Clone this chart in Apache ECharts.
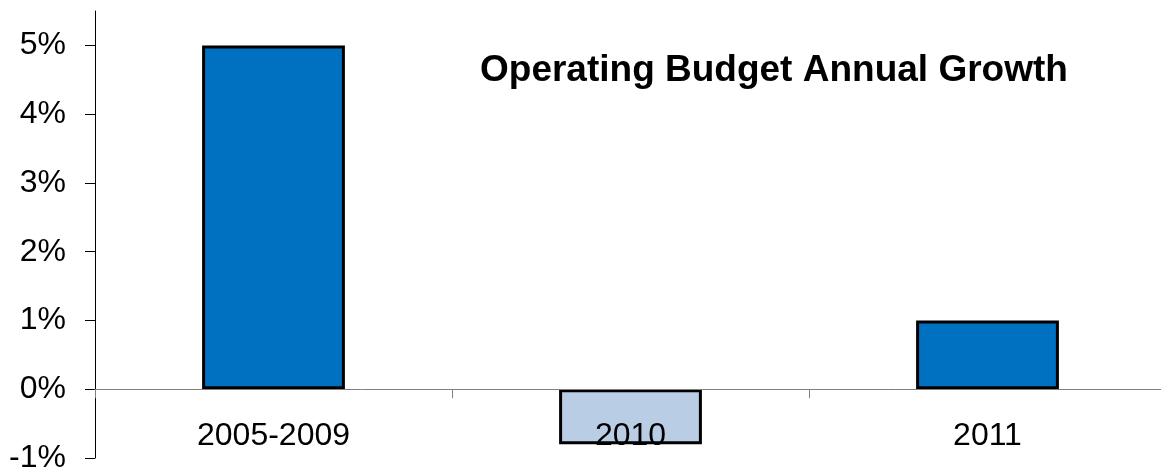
<!DOCTYPE html>
<html>
<head>
<meta charset="utf-8">
<script src="https://cdn.jsdelivr.net/npm/echarts@6/dist/echarts.min.js"></script>
<style>
html,body{margin:0;padding:0;background:#fff;}
#chart{width:1161px;height:469px;}
</style>
</head>
<body>
<div id="chart"></div>
<script>
var categories = ['2005-2009', '2010', '2011'];
var growthValues = [5, -0.8, 1];
var barColors = ['#0070C0', '#B9CDE5', '#0070C0'];
var yTickValues = [-1, 0, 1, 2, 3, 4, 5];
var chartTitle = 'Operating Budget Annual Growth';

var chart = echarts.init(document.getElementById('chart'));
chart.setOption({
  animation: false,
  backgroundColor: '#ffffff',
  title: {
    text: chartTitle,
    left: 475,
    top: 47,
    textStyle: {fontFamily: 'Liberation Sans, Arial', fontWeight: 'bold', fontSize: 37, color: '#000'}
  },
  grid: {left: 95, right: -5, top: 11, bottom: 11, containLabel: false, outerBoundsMode: 'none'},
  xAxis: {
    type: 'category',
    data: categories,
    z: 10,
    axisLine: {show: true, onZero: true, lineStyle: {color: '#808080', width: 1}},
    axisTick: {show: true, length: 9, alignWithLabel: false, lineStyle: {color: '#808080'}},
    axisLabel: {margin: -38, fontFamily: 'Liberation Sans, Arial', fontSize: 32, color: '#000'},
    splitLine: {show: false}
  },
  yAxis: {
    type: 'value',
    min: -1,
    max: 5.5,
    interval: 1,
    axisLine: {show: true, lineStyle: {color: '#000', width: 1}},
    axisTick: {show: true, length: 10, customValues: yTickValues, lineStyle: {color: '#000'}},
    axisLabel: {
      margin: 29,
      customValues: yTickValues,
      fontFamily: 'Liberation Sans, Arial',
      fontSize: 32,
      color: '#000',
      formatter: function (v) { return v + '%'; }
    },
    splitLine: {show: false}
  },
  series: [{
    type: 'bar',
    barWidth: '40%',
    data: growthValues.map(function (v, i) {
      return {value: v, itemStyle: {color: barColors[i]}};
    }),
    itemStyle: {borderColor: '#000', borderWidth: 3}
  }]
});
</script>
</body>
</html>
